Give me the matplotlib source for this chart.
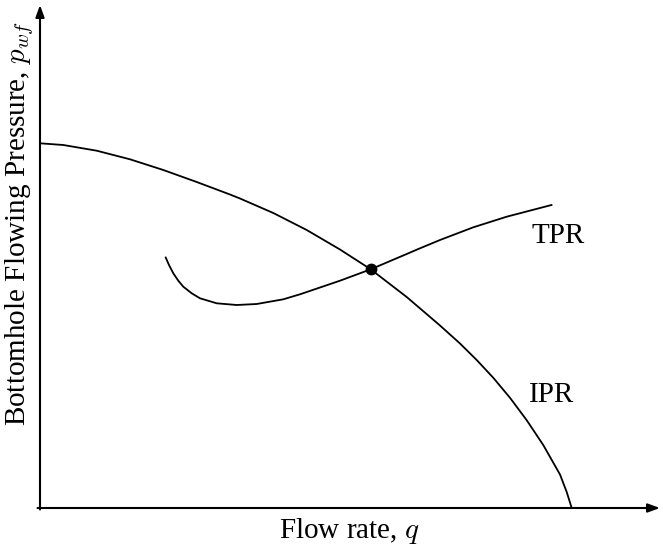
import matplotlib.pyplot as plt

plt.rcParams['font.family'] = ['Liberation Serif', 'DejaVu Serif']
plt.rcParams['mathtext.fontset'] = 'cm'

# inflow performance relationship: flow rate vs bottomhole pressure
ipr_q = [0, 23.3, 56.7, 90, 123.3, 156.7, 190, 200, 233.3, 266.7, 300,
         330.7, 366.7, 400, 420, 436.7, 453.3, 470, 486.7, 503.3, 520,
         526.7, 531.7]
ipr_p = [364.7, 363, 357.3, 348.7, 338, 326, 313.5, 309.5, 295, 278, 258.5,
         238.7, 211, 182.5, 164.5, 148, 130.2, 110.2, 87.8, 62.9, 33.5,
         16, 0]

# tubing performance relationship
tpr_q = [125.7, 129, 133.3, 138.3, 143.3, 151.7, 160, 176.7, 196.7, 216.7,
         243.3, 260, 300, 330.7, 366.7, 380, 400, 433.3, 466.7, 511.5]
tpr_p = [250.5, 243, 234.7, 227.3, 221.3, 214.7, 209.7, 204.7, 203, 204,
         208.7, 213.7, 227.3, 238.7, 254, 259.7, 268, 280.7, 291.3, 303]

# operating point (where the two curves cross)
op_q = 330.7
op_p = 238.7

fig = plt.figure(figsize=(6.63, 5.47), dpi=100)
ax = fig.add_axes([40 / 663, 39 / 547, 620 / 663, 503 / 547])
ax.set_xlim(0, 620)
ax.set_ylim(0, 503)
for s in ax.spines.values():
    s.set_visible(False)
ax.set_xticks([])
ax.set_yticks([])

arrow = dict(arrowstyle='-|>,head_length=0.55,head_width=0.2', color='black',
             lw=1.5, mutation_scale=13, shrinkA=0, shrinkB=0)
ax.annotate('', xy=(1, 0), xytext=(-0.004, 0), xycoords='axes fraction',
            arrowprops=arrow)
ax.annotate('', xy=(0, 1), xytext=(0, -0.003), xycoords='axes fraction',
            arrowprops=arrow)

ax.plot(ipr_q, ipr_p, color='black', lw=1.3, clip_on=False,
        solid_joinstyle='round')
ax.plot(tpr_q, tpr_p, color='black', lw=1.3, clip_on=False,
        solid_joinstyle='round')
ax.plot(op_q, op_p, 'o', color='black', markersize=7.5, zorder=5)

ax.text(518, 272, 'TPR', fontsize=21, ha='center', va='center')
ax.text(512, 113, 'IPR', fontsize=21, ha='center', va='center')

fig.text(349.5 / 663, 1 - 531 / 547, 'Flow rate, $q$', fontsize=21,
         ha='center', va='center')
fig.text(20 / 663, 1 - 223.5 / 547, 'Bottomhole Flowing Pressure, $p_{wf}$',
         fontsize=21, ha='center', va='center', rotation=90)

fig.savefig('out.png', dpi=100)
